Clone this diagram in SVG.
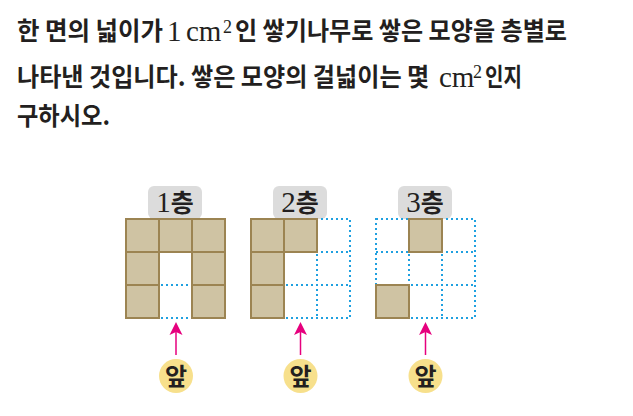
<svg xmlns="http://www.w3.org/2000/svg" width="633" height="416" viewBox="0 0 633 416">
<defs>
<style>
.q{font-family:"Noto Sans CJK KR","Noto Sans",sans-serif;font-weight:700;font-size:25px;fill:#231f20}
.s{font-family:"Liberation Serif","DejaVu Serif",serif;font-size:29px;fill:#231f20}
.sup{font-family:"Liberation Serif","DejaVu Serif",serif;font-size:18px;fill:#231f20}
.tan{fill:#cfc3a3;stroke:#9c8452;stroke-width:2}
.dot{fill:none;stroke:#1fa0e0;stroke-width:2;stroke-dasharray:2 3}
.lab{fill:#dcdcdc}
.arr{stroke:#e6007e;stroke-width:1.5;fill:none}
.ah{fill:#e6007e}
.ap{fill:#f7e08c}
.apt{font-family:"Noto Sans CJK KR",sans-serif;font-weight:700;font-size:24px;fill:#231f20}
</style>
<g id="dgrid">
<path class="dot" d="M0 0H99V99H0Z M33 0V99 M66 0V99 M0 33H99 M0 66H99"/>
</g>
<g id="arrow">
<line class="arr" x1="0" y1="355" x2="0" y2="332"/>
<path class="ah" d="M0 322 L6.5 335 L0 332 L-6.5 335 Z"/>
<circle class="ap" cx="0" cy="376" r="17"/>
<text class="apt" x="0" y="384.5" text-anchor="middle">앞</text>
</g>
</defs>

<g id="question">
<text class="q" x="17" y="40" textLength="146" lengthAdjust="spacingAndGlyphs">한 면의 넓이가</text>
<text class="s" x="167" y="41">1</text>
<text class="s" x="186" y="41">cm</text>
<text class="sup" x="223" y="33">2</text>
<text class="q" x="235" y="40" textLength="332" lengthAdjust="spacingAndGlyphs">인 쌓기나무로 쌓은 모양을 층별로</text>
<text class="q" transform="translate(17 86) scale(0.965 1)">나타낸 것입니다. 쌓은 모양의 걸넓이는 몇</text>
<text class="s" x="439" y="87" font-size="26">cm</text>
<text class="sup" x="473" y="78">2</text>
<text class="q" x="485" y="86" textLength="37" lengthAdjust="spacingAndGlyphs">인지</text>
<text class="q" x="17" y="125" textLength="93" lengthAdjust="spacingAndGlyphs">구하시오.</text>
</g>

<g id="layer1">
<rect class="lab" x="148" y="186" width="54" height="33" rx="6"/>
<text x="175" y="212" text-anchor="middle"><tspan class="s" font-size="26">1</tspan><tspan class="q" font-size="22">층</tspan></text>
<use href="#dgrid" x="126" y="219"/>
<rect class="tan" x="126" y="219" width="33" height="33"/>
<rect class="tan" x="159" y="219" width="33" height="33"/>
<rect class="tan" x="192" y="219" width="33" height="33"/>
<rect class="tan" x="126" y="252" width="33" height="33"/>
<rect class="tan" x="192" y="252" width="33" height="33"/>
<rect class="tan" x="126" y="285" width="33" height="33"/>
<rect class="tan" x="192" y="285" width="33" height="33"/>
</g>

<g id="layer2">
<rect class="lab" x="273" y="186" width="54" height="33" rx="6"/>
<text x="300" y="212" text-anchor="middle"><tspan class="s" font-size="26">2</tspan><tspan class="q" font-size="22">층</tspan></text>
<use href="#dgrid" x="251" y="219"/>
<rect class="tan" x="251" y="219" width="33" height="33"/>
<rect class="tan" x="284" y="219" width="33" height="33"/>
<rect class="tan" x="251" y="252" width="33" height="33"/>
<rect class="tan" x="251" y="285" width="33" height="33"/>
</g>

<g id="layer3">
<rect class="lab" x="398" y="186" width="54" height="33" rx="6"/>
<text x="425" y="212" text-anchor="middle"><tspan class="s" font-size="26">3</tspan><tspan class="q" font-size="22">층</tspan></text>
<use href="#dgrid" x="376" y="219"/>
<rect class="tan" x="409" y="219" width="33" height="33"/>
<rect class="tan" x="376" y="285" width="33" height="33"/>
</g>

<g id="connectors">
<use href="#arrow" x="176" y="0"/>
<use href="#arrow" x="300.5" y="0"/>
<use href="#arrow" x="425.5" y="0"/>
</g>
</svg>
